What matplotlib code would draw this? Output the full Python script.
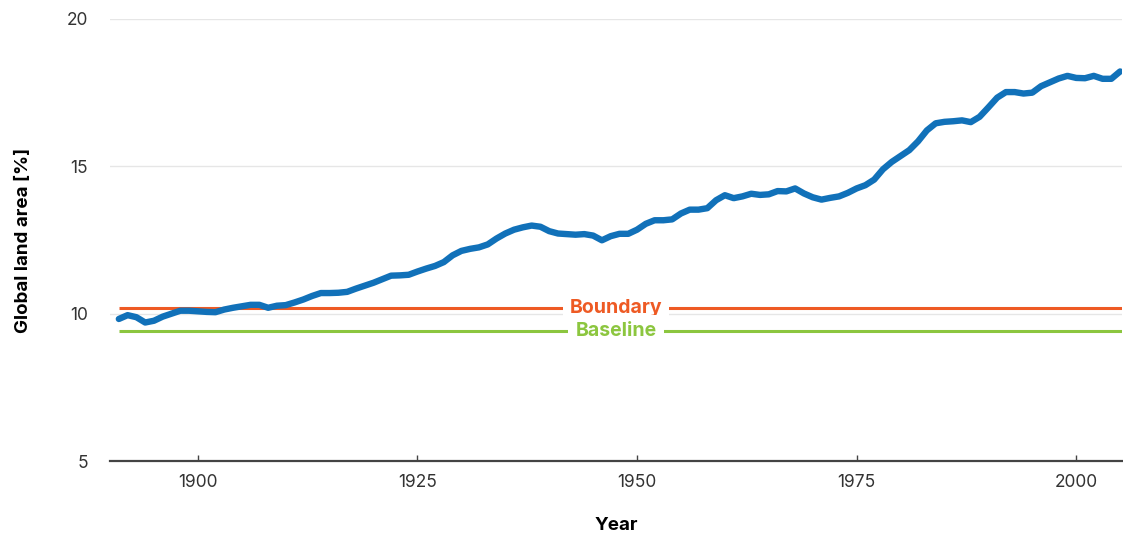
import numpy as np
import matplotlib.pyplot as plt

plt.rcParams['font.family'] = ['Inter', 'DejaVu Sans']

years = np.arange(1891, 2006)
land_area = [
    9.82, 9.95, 9.88, 9.70, 9.76, 9.90, 10.00, 10.10, 10.10,            # 1891-1899
    10.08, 10.06, 10.05, 10.14, 10.20, 10.25, 10.30, 10.30, 10.20, 10.27,  # 1900s
    10.29, 10.38, 10.48, 10.60, 10.70, 10.70, 10.71, 10.74, 10.85, 10.95,  # 1910s
    11.05, 11.17, 11.29, 11.30, 11.32, 11.43, 11.53, 11.62, 11.75, 11.98,  # 1920s
    12.13, 12.20, 12.25, 12.35, 12.55, 12.72, 12.85, 12.93, 12.99, 12.95,  # 1930s
    12.80, 12.72, 12.70, 12.68, 12.70, 12.65, 12.49, 12.63, 12.71, 12.71,  # 1940s
    12.85, 13.05, 13.17, 13.17, 13.20, 13.40, 13.53, 13.53, 13.58, 13.85,  # 1950s
    14.02, 13.92, 13.98, 14.07, 14.03, 14.05, 14.16, 14.15, 14.25, 14.08,  # 1960s
    13.95, 13.87, 13.93, 13.98, 14.10, 14.25, 14.36, 14.55, 14.90, 15.15,  # 1970s
    15.35, 15.55, 15.85, 16.22, 16.46, 16.51, 16.53, 16.56, 16.50, 16.68,  # 1980s
    17.00, 17.33, 17.52, 17.52, 17.47, 17.50, 17.72, 17.85, 17.98, 18.07,  # 1990s
    18.00, 17.99, 18.07, 17.97, 17.97, 18.22,                              # 2000s
]
boundary = 10.2
baseline = 9.4

xticks = [1900, 1925, 1950, 1975, 2000]
yticks = [5, 10, 15, 20]

fig = plt.figure(figsize=(11.23, 5.35), dpi=100)
ax = fig.add_axes([0.098, 0.1383, 0.901, 0.8262])

ax.set_xlim(1890, 2005.2)
ax.set_ylim(5, 20)

for y in yticks[1:]:
    ax.axhline(y, color='#e6e6e6', lw=1, zorder=0)

xmid = (1890 + 2005.2) / 2
ax.hlines(boundary, years[0], 2005.2, color='#ee5a24', lw=2.2, zorder=1)
ax.hlines(baseline, years[0], 2005.2, color='#8cc63f', lw=2.2, zorder=1)
ax.text(xmid, boundary, 'Boundary', color='#ee5a24', fontsize=14, fontweight='bold',
        ha='center', va='center', zorder=2,
        bbox=dict(facecolor='white', edgecolor='none', pad=5))
ax.text(xmid, baseline, 'Baseline', color='#8cc63f', fontsize=14, fontweight='bold',
        ha='center', va='center', zorder=2,
        bbox=dict(facecolor='white', edgecolor='none', pad=5))

ax.plot(years, land_area, color='#1171b9', lw=4.6, solid_capstyle='round',
        solid_joinstyle='round', zorder=3)

for s in ['top', 'right', 'left']:
    ax.spines[s].set_visible(False)
ax.spines['bottom'].set_color('#444444')
ax.spines['bottom'].set_linewidth(1.6)

ax.set_xticks(xticks)
ax.set_yticks(yticks)
ax.tick_params(axis='x', direction='in', length=4, width=1, color='#444444',
               labelsize=12.5, labelcolor='#333333', pad=9)
ax.tick_params(axis='y', length=0, labelsize=12.5, labelcolor='#333333', pad=16)

ax.set_xlabel('Year', fontsize=13.5, fontweight='bold', labelpad=19)
ax.set_ylabel('Global land area [%]', fontsize=13.5, fontweight='bold', labelpad=25)

fig.savefig('out.png', dpi=100)
